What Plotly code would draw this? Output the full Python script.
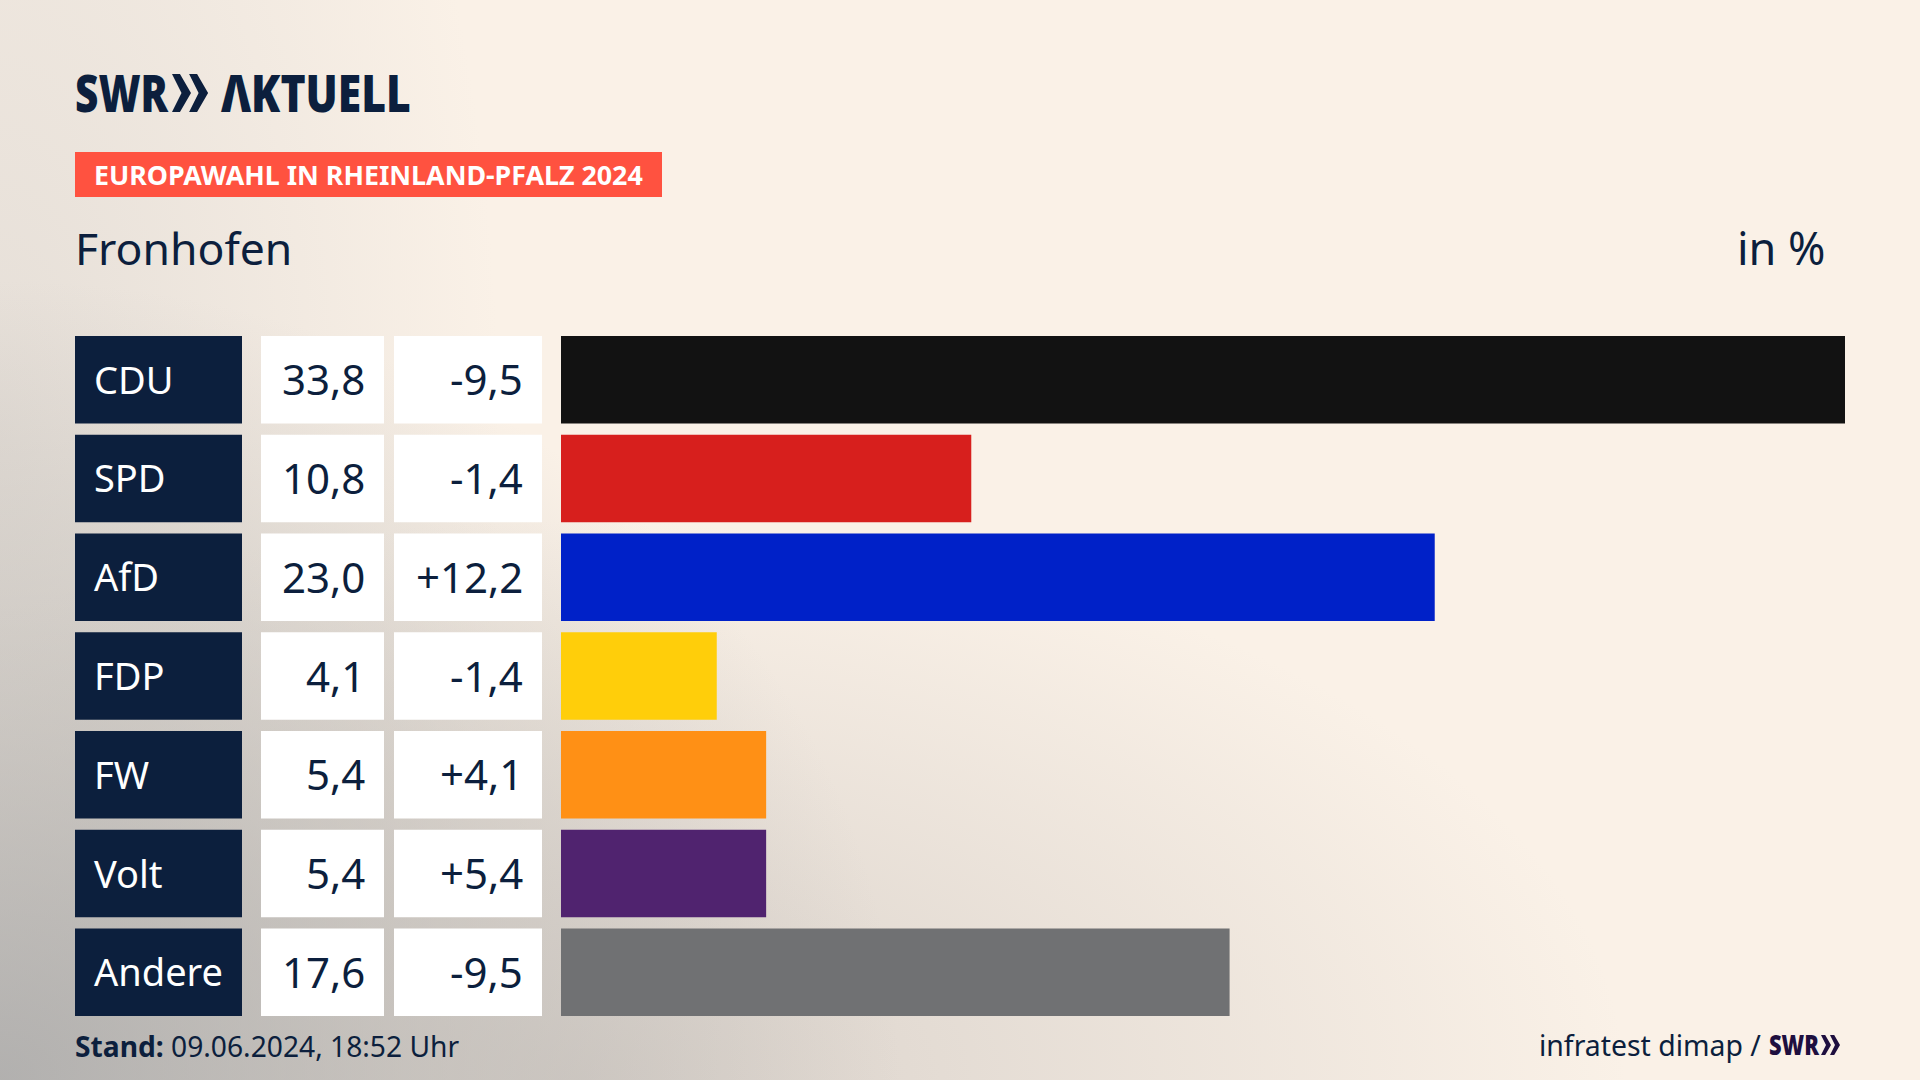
import plotly.graph_objects as go

parties = ['CDU', 'SPD', 'AfD', 'FDP', 'FW', 'Volt', 'Andere']
values = [33.8, 10.8, 23.0, 4.1, 5.4, 5.4, 17.6]
changes = ['-9,5', '-1,4', '+12,2', '-1,4', '+4,1', '+5,4', '-9,5']
value_labels = ['33,8', '10,8', '23,0', '4,1', '5,4', '5,4', '17,6']
bar_colors = ['#121212', '#D71F1D', '#0021C8', '#FFCE0A', '#FF9015', '#50236F', '#707173']

W, H = 1920, 1080
NAVY = '#0C1F3D'
PURPLE = '#1E0F3F'
FONT = 'Noto Sans'


def px(x):
    return x / W


def py(y):
    return 1 - y / H


def note(text, x, y, size, color=NAVY, anchor='left', yref='paper', shift=0, weight='normal'):
    fig.add_annotation(text=text, x=px(x), y=py(y) if yref == 'paper' else y, xref='paper', yref=yref,
                       xanchor=anchor, yanchor='middle', showarrow=False, yshift=shift,
                       font=dict(family=FONT, size=size, color=color, weight=weight))


def chevrons(x, y, h, color):
    # two arrow heads of the SWR logo, size follows the cap height
    w = h * 0.5
    step = h * 0.45
    for i in range(2):
        x0 = x + i * step
        path = (f'M {px(x0)} {py(y)} L {px(x0 + w * 0.42)} {py(y)} L {px(x0 + w)} {py(y + h / 2)} '
                f'L {px(x0 + w * 0.42)} {py(y + h)} L {px(x0)} {py(y + h)} '
                f'L {px(x0 + w * 0.5)} {py(y + h / 2)} Z')
        fig.add_shape(type='path', path=path, xref='paper', yref='paper', fillcolor=color, line_width=0)


fig = go.Figure()

cells = [('x2', NAVY), ('x3', '#FFFFFF'), ('x4', '#FFFFFF')]
for axis, color in cells:
    fig.add_trace(go.Bar(x=[1] * len(parties), y=parties, orientation='h', xaxis=axis, yaxis='y',
                         marker=dict(color=color, line_width=0), hoverinfo='skip', showlegend=False))

fig.add_trace(go.Bar(x=values, y=parties, orientation='h', xaxis='x', yaxis='y',
                     marker=dict(color=bar_colors, line_width=0), hoverinfo='skip', showlegend=False))

for party, value, change in zip(parties, value_labels, changes):
    note(party, 92, party, 38, color='#FFFFFF', yref='y', shift=1)
    note(value, 367, party, 42, anchor='right', yref='y', shift=1)
    note(change, 525, party, 42, anchor='right', yref='y', shift=1)

# header
note('SWR', 73, 92, 52, weight=900)
note('ΛKTUELL', 219, 92, 52, weight=900)
chevrons(172, 74, 38, NAVY)

fig.add_shape(type='rect', x0=px(75), x1=px(662), y0=py(152), y1=py(197), xref='paper', yref='paper',
              fillcolor='#FF5240', line_width=0)
note('<b>EUROPAWAHL IN RHEINLAND-PFALZ 2024</b>', 92, 175, 26.8, color='#FFFFFF')
note('Fronhofen', 73, 247, 44.5)
note('in %', 1828, 247, 45, anchor='right')

# footer
note('<b>Stand:</b> 09.06.2024, 18:52 Uhr', 73, 1046, 28.2)
note('infratest dimap /', 1763, 1045, 28.4, anchor='right')
note('SWR', 1767, 1044, 28, color=PURPLE, weight=900)
chevrons(1821, 1035, 20, PURPLE)

fig.update_layout(
    width=W, height=H, margin=dict(l=0, r=0, t=0, b=0),
    paper_bgcolor='rgba(0,0,0,0)', plot_bgcolor='rgba(0,0,0,0)',
    barmode='overlay', bargap=0.115,
    xaxis=dict(domain=[px(561), px(1845)], range=[0, 33.8], visible=False, fixedrange=True),
    xaxis2=dict(domain=[px(75), px(242)], range=[0, 1], visible=False, anchor='y', fixedrange=True),
    xaxis3=dict(domain=[px(261), px(384)], range=[0, 1], visible=False, anchor='y', fixedrange=True),
    xaxis4=dict(domain=[px(394), px(542)], range=[0, 1], visible=False, anchor='y', fixedrange=True),
    yaxis=dict(domain=[py(1016), py(336)], range=[6.4425, -0.4425], visible=False, fixedrange=True,
               type='category', categoryorder='array', categoryarray=parties),
)

page = """
document.documentElement.style.height = '100%';
document.body.style.margin = '0';
document.body.style.overflow = 'hidden';
document.body.style.height = '100%';
document.body.style.background = [
  'radial-gradient(ellipse 900px 800px at 0% 100%, rgba(165,165,165,0.8) 0%, rgba(180,178,175,0.55) 45%, rgba(250,241,231,0) 100%)',
  'radial-gradient(ellipse 1050px 560px at 30% 100%, rgba(205,198,192,0.75) 0%, rgba(250,241,231,0) 100%)',
  'radial-gradient(ellipse 500px 1080px at 0% 40%, rgba(215,210,205,0.6) 0%, rgba(250,241,231,0) 100%)',
  '#FAF1E7'
].join(',');
// the logo lettering is narrower than Noto Sans
document.querySelectorAll('.annotation-text').forEach(function (t) {
  var s = t.textContent;
  if (s === 'SWR' || s === 'ΛKTUELL') {
    t.style.transformBox = 'fill-box';
    t.style.transformOrigin = '0 50%';
    t.style.transform = 'scaleX(' + (s === 'SWR' ? 0.78 : 0.82) + ')';
  }
});
"""
fig.write_html('out.html', post_script=page, config={'displayModeBar': False})
